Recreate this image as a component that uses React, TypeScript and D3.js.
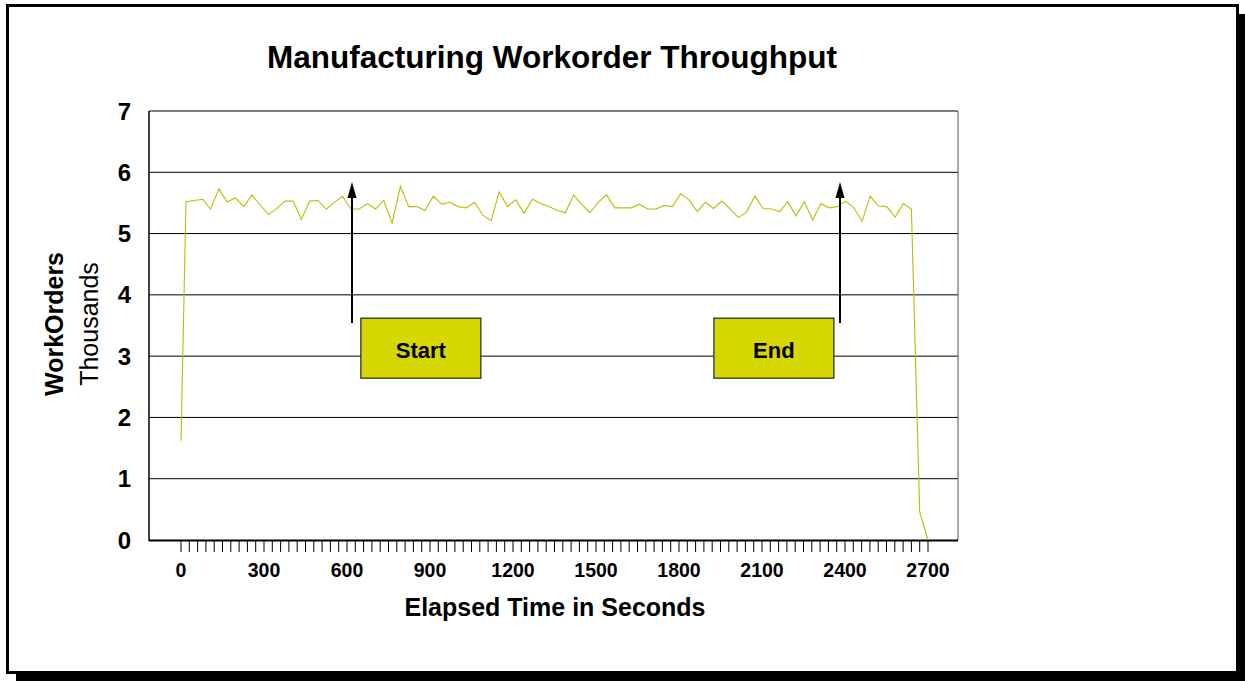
import React from "react";
import * as d3 from "d3";

const W = 1245;
const H = 681;

const title = "Manufacturing Workorder Throughput";
const xTitle = "Elapsed Time in Seconds";
const yTitleBold = "WorkOrders";
const yTitleUnit = "Thousands";

const xLabels = [0, 300, 600, 900, 1200, 1500, 1800, 2100, 2400, 2700];
const yLabels = [0, 1, 2, 3, 4, 5, 6, 7];

const times = [
  0, 18, 48, 78, 107, 137, 167, 197, 227, 256, 286, 316, 346, 376, 405, 435,
  465, 495, 525, 554, 584, 614, 644, 674, 703, 733, 763, 793, 823, 852, 882,
  912, 942, 972, 1001, 1031, 1061, 1091, 1121, 1150, 1180, 1210, 1240, 1270,
  1299, 1329, 1359, 1389, 1419, 1448, 1478, 1508, 1538, 1568, 1597, 1627, 1657,
  1687, 1717, 1746, 1776, 1806, 1836, 1866, 1895, 1925, 1955, 1985, 2015, 2044,
  2074, 2104, 2134, 2164, 2193, 2223, 2253, 2283, 2313, 2342, 2372, 2402, 2432,
  2462, 2491, 2521, 2551, 2581, 2611, 2640, 2670, 2700,
];

// thousands of work orders
const workOrders = [
  1.62, 5.52, 5.54, 5.56, 5.4, 5.73, 5.52, 5.58, 5.44, 5.63, 5.47, 5.31, 5.41,
  5.53, 5.53, 5.23, 5.53, 5.54, 5.4, 5.51, 5.61, 5.4, 5.4, 5.49, 5.4, 5.54, 5.17,
  5.77, 5.44, 5.44, 5.38, 5.61, 5.48, 5.51, 5.44, 5.42, 5.51, 5.3, 5.21, 5.68,
  5.44, 5.55, 5.33, 5.56, 5.49, 5.44, 5.38, 5.34, 5.63, 5.48, 5.34, 5.51, 5.63,
  5.42, 5.42, 5.42, 5.48, 5.4, 5.4, 5.46, 5.44, 5.65, 5.55, 5.36, 5.51, 5.41,
  5.53, 5.4, 5.26, 5.35, 5.61, 5.41, 5.4, 5.36, 5.52, 5.29, 5.52, 5.22, 5.49,
  5.42, 5.44, 5.53, 5.42, 5.2, 5.61, 5.45, 5.44, 5.27, 5.49, 5.4, 0.46, 0,
];

const markers = ["Start", "End"];
const markerTimes = [618, 2382];
const markerTip = [5.84, 5.84];
const markerTail = [3.54, 3.54];
const boxCenterTimes = [867, 2143];
const boxCenterValues = [3.13, 3.13];

const FONT = "'Liberation Sans', Arial, Helvetica, sans-serif";

export default function App() {
  const plotL = 149;
  const plotR = 958;
  const plotT = 111;
  const plotB = 540;

  const x = d3.scaleLinear().domain([0, 2700]).range([181, 928]);
  const y = d3.scaleLinear().domain([0, 7]).range([plotB, plotT]);

  const line = d3
    .line<number>()
    .x((_, i) => x(times[i]))
    .y((d) => y(d));

  const minorTicks = d3.range(0, 2701, 30);

  const boxW = 120;
  const boxH = 60;

  return (
    <svg
      width={W}
      height={H}
      style={{ position: "absolute", left: 0, top: 0, background: "#fff" }}
      fontFamily={FONT}
    >
      {/* shadow & frame */}
      <rect x={16} y={14} width={1229} height={667} fill="#000" />
      <rect x={7.5} y={5.5} width={1230} height={667} fill="#fff" stroke="#000" strokeWidth={3} />

      <text x={552} y={68} textAnchor="middle" fontSize={31.5} fontWeight="bold">
        {title}
      </text>

      {/* gridlines */}
      {yLabels.slice(1).map((v) => (
        <line key={v} x1={plotL} x2={plotR} y1={y(v)} y2={y(v)} stroke="#000" strokeWidth={1} />
      ))}
      <line x1={plotR} x2={plotR} y1={plotT} y2={plotB} stroke="#555" strokeWidth={1} />
      <line x1={plotL} x2={plotL} y1={plotT} y2={plotB + 1} stroke="#000" strokeWidth={1.5} />
      <line x1={plotL} x2={plotR} y1={plotB + 0.5} y2={plotB + 0.5} stroke="#000" strokeWidth={2} />

      {/* x ticks */}
      {minorTicks.map((t) => (
        <line key={t} x1={x(t)} x2={x(t)} y1={plotB + 1} y2={plotB + 12} stroke="#000" strokeWidth={1} />
      ))}
      {xLabels.map((t) => (
        <text key={t} x={x(t)} y={577} textAnchor="middle" fontSize={19.5} fontWeight="bold">
          {t}
        </text>
      ))}
      {yLabels.map((v) => (
        <text key={v} x={131} y={y(v)} dy="0.36em" textAnchor="end" fontSize={24} fontWeight="bold">
          {v}
        </text>
      ))}

      <text x={555} y={616} textAnchor="middle" fontSize={25} fontWeight="bold">
        {xTitle}
      </text>
      <text transform="translate(63,324) rotate(-90)" textAnchor="middle" fontSize={25} fontWeight="bold">
        {yTitleBold}
      </text>
      <text transform="translate(98,324) rotate(-90)" textAnchor="middle" fontSize={25}>
        {yTitleUnit}
      </text>

      {/* data line */}
      <path d={line(workOrders) || ""} fill="none" stroke="#BDBD00" strokeWidth={1.1} />

      {/* annotations */}
      {markers.map((m, i) => {
        const ax = x(markerTimes[i]);
        const tipY = y(markerTip[i]);
        const tailY = y(markerTail[i]);
        const bx = x(boxCenterTimes[i]);
        const by = y(boxCenterValues[i]);
        return (
          <g key={m}>
            <line x1={ax} x2={ax} y1={tailY} y2={tipY + 14} stroke="#000" strokeWidth={2} />
            <path
              d={`M${ax},${tipY} L${ax - 4.5},${tipY + 16} L${ax + 4.5},${tipY + 16} Z`}
              fill="#000"
            />
            <rect
              x={bx - boxW / 2}
              y={by - boxH / 2}
              width={boxW}
              height={boxH}
              fill="#D6D600"
              stroke="#222"
              strokeWidth={1.2}
            />
            <text x={bx} y={by + 2} dy="0.36em" textAnchor="middle" fontSize={22} fontWeight="bold">
              {m}
            </text>
          </g>
        );
      })}
    </svg>
  );
}
